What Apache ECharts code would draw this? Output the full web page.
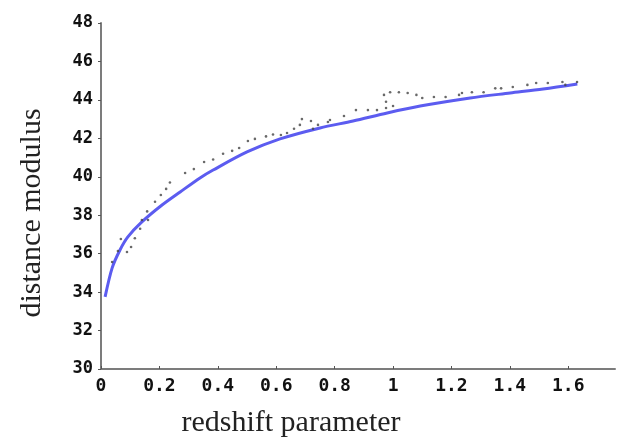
<!DOCTYPE html>
<html>
<head>
<meta charset="utf-8">
<script src="https://cdn.jsdelivr.net/npm/echarts@6/dist/echarts.min.js"></script>
<style>
html,body{margin:0;padding:0;background:#fff;}
#c{width:619px;height:439px;}
</style>
</head>
<body>
<div id="c"></div>
<script>
// tick labels
var xTicks = [0, 0.2, 0.4, 0.6, 0.8, 1, 1.2, 1.4, 1.6];
var yTicks = [30, 32, 34, 36, 38, 40, 42, 44, 46, 48];

// fitted model curve (z, distance modulus)
var curveZ  = [0.014, 0.038, 0.065, 0.092, 0.14, 0.209, 0.271, 0.339, 0.384, 0.5, 0.613, 0.75, 0.863, 0.98, 1.093, 1.264, 1.401, 1.514, 1.631];
var curveMu = [33.75, 35.25, 36.19, 36.87, 37.65, 38.53, 39.21, 39.94, 40.35, 41.29, 41.97, 42.54, 42.9, 43.32, 43.68, 44.1, 44.36, 44.57, 44.83];

// observed supernova points (z, distance modulus)
var obsZ  = [0.038, 0.058, 0.068, 0.089, 0.103, 0.116, 0.134, 0.14, 0.158, 0.161, 0.185, 0.205, 0.223, 0.236,
             0.288, 0.318, 0.353, 0.384, 0.418, 0.449, 0.473, 0.503, 0.527, 0.565, 0.589, 0.616, 0.637, 0.661,
             0.681, 0.688, 0.719, 0.726, 0.743, 0.777, 0.784, 0.832, 0.873, 0.914, 0.945, 0.969, 0.976, 0.976,
             0.99, 1.0, 1.02, 1.05, 1.08, 1.10, 1.14, 1.18, 1.226, 1.236, 1.27, 1.31, 1.35, 1.37, 1.41, 1.46,
             1.49, 1.53, 1.58, 1.59, 1.63];
var obsMu = [35.57, 36.14, 36.76, 36.09, 36.35, 36.8, 37.3, 37.75, 38.2, 37.75, 38.7, 39.05, 39.37, 39.7,
             40.2, 40.4, 40.77, 40.9, 41.2, 41.35, 41.5, 41.86, 41.97, 42.1, 42.2, 42.17, 42.28, 42.5,
             42.7, 43.0, 42.9, 42.5, 42.7, 42.85, 42.95, 43.16, 43.47, 43.47, 43.47, 44.26, 43.9, 43.58,
             44.4, 43.68, 44.4, 44.36, 44.26, 44.1, 44.15, 44.15, 44.26, 44.36, 44.4, 44.4, 44.6, 44.6, 44.67, 44.78,
             44.88, 44.88, 44.93, 44.78, 44.93];

var curveData = curveZ.map(function (z, i) { return [z, curveMu[i]]; });
var obsData = obsZ.map(function (z, i) { return [z, obsMu[i]]; });

var chart = echarts.init(document.getElementById('c'), null, {renderer: 'canvas'});
var tickFont = '"DejaVu Sans Mono", monospace';
var nameFont = '"Liberation Serif", "Times New Roman", serif';

chart.setOption({
  animation: false,
  backgroundColor: '#ffffff',
  grid: {left: 101, right: 4, top: 23, bottom: 70, containLabel: false},
  xAxis: {
    type: 'value',
    min: 0, max: 1.76, interval: 0.2,
    axisLine: {show: true, lineStyle: {color: '#7c7c7c', width: 2}},
    axisTick: {show: true, inside: true, length: 3, customValues: xTicks, lineStyle: {color: '#555', width: 1}},
    axisLabel: {
      customValues: xTicks, margin: 8,
      color: '#111', fontFamily: tickFont, fontWeight: 'bold', fontSize: 18,
      formatter: function (v) { return String(+(+v).toFixed(1)); }
    },
    splitLine: {show: false}
  },
  yAxis: {
    type: 'value',
    min: 30, max: 48, interval: 2,
    axisLine: {show: true, onZero: false, lineStyle: {color: '#7c7c7c', width: 2}},
    axisTick: {show: true, inside: false, length: 3, customValues: yTicks, lineStyle: {color: '#555', width: 1}},
    axisLabel: {
      customValues: yTicks, margin: 8,
      color: '#111', fontFamily: tickFont, fontWeight: 'bold', fontSize: 17
    },
    splitLine: {show: false}
  },
  graphic: [
    {
      type: 'text', x: 291, y: 423,
      style: {text: 'redshift parameter', font: '30px ' + nameFont, fill: '#222', textAlign: 'center', textVerticalAlign: 'middle'}
    },
    {
      type: 'text', x: 32, y: 213, rotation: Math.PI / 2,
      style: {text: 'distance modulus', font: '30px ' + nameFont, fill: '#222', textAlign: 'center', textVerticalAlign: 'middle'}
    }
  ],
  series: [
    {
      type: 'scatter',
      data: obsData,
      symbol: 'circle',
      symbolSize: 2.6,
      itemStyle: {color: '#444'},
      z: 3
    },
    {
      type: 'line',
      data: curveData,
      smooth: 0.3,
      showSymbol: false,
      lineStyle: {color: '#5c5cf0', width: 3},
      z: 2
    }
  ]
});
</script>
</body>
</html>
